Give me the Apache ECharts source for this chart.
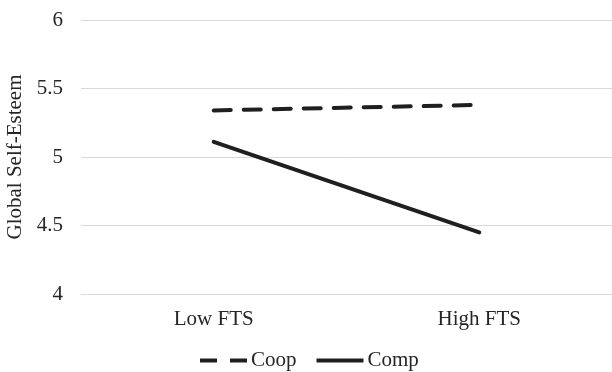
<!DOCTYPE html>
<html>
<head>
<meta charset="utf-8">
<script src="https://cdn.jsdelivr.net/npm/echarts@6/dist/echarts.min.js"></script>
<style>
  html, body { margin: 0; padding: 0; background: #fff; }
  #chart { width: 612px; height: 372px; }
</style>
</head>
<body>
<div id="chart"></div>
<script>
// data
const categories = ["Low FTS", "High FTS"];
const coopValues = [5.34, 5.38];
const compValues = [5.11, 4.45];
const yTicks = { min: 4, max: 6, interval: 0.5 };

const font = "'Liberation Serif', 'Times New Roman', serif";
const ink = "#1f1f1f";
const textColor = "#262626";

// legend icons: dashed and solid strokes
const dashIcon = "path://M0,0H17V4H0Z M30,0H47V4H30Z";
const solidIcon = "path://M0,0H47V4H0Z";

const chart = echarts.init(document.getElementById("chart"));

chart.setOption({
  animation: false,
  textStyle: { fontFamily: font, color: textColor },
  grid: { left: 81, right: 0, top: 20, bottom: 78, outerBoundsMode: "none", containLabel: false },
  xAxis: {
    type: "category",
    data: categories,
    boundaryGap: true,
    axisLine: { show: true, lineStyle: { color: "#d9d9d9", width: 1 } },
    axisTick: { show: false },
    axisLabel: { fontFamily: font, fontSize: 21, color: textColor, margin: 15 },
  },
  yAxis: {
    type: "value",
    min: yTicks.min,
    max: yTicks.max,
    interval: yTicks.interval,
    name: "Global Self-Esteem",
    nameLocation: "middle",
    nameGap: 46,
    nameTextStyle: { fontFamily: font, fontSize: 21, color: textColor },
    axisLine: { show: false },
    axisTick: { show: false },
    axisLabel: { fontFamily: font, fontSize: 21, color: textColor, margin: 18 },
    splitLine: { lineStyle: { color: "#d9d9d9", width: 1 } },
  },
  legend: {
    top: 350,
    left: 200,
    padding: 0,
    itemWidth: 47,
    itemHeight: 4,
    itemGap: 20,
    textStyle: { fontFamily: font, fontSize: 21, color: textColor, padding: [0, 0, 0, -1] },
    data: [
      { name: "Coop", icon: dashIcon, itemStyle: { color: ink } },
      { name: "Comp", icon: solidIcon, itemStyle: { color: ink } },
    ],
  },
  series: [
    {
      name: "Coop",
      type: "line",
      data: coopValues,
      symbol: "none",
      lineStyle: { color: ink, width: 4, type: [17, 13], cap: "round" },
      itemStyle: { color: ink },
    },
    {
      name: "Comp",
      type: "line",
      data: compValues,
      symbol: "none",
      lineStyle: { color: ink, width: 4, cap: "round" },
      itemStyle: { color: ink },
    },
  ],
});
</script>
</body>
</html>
